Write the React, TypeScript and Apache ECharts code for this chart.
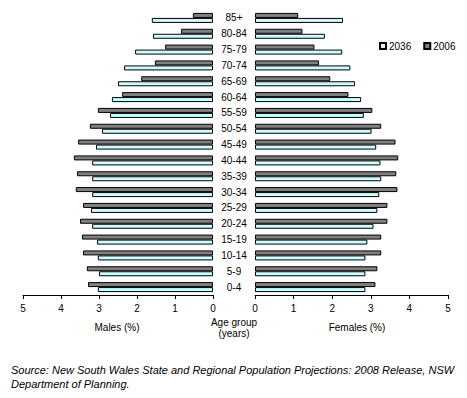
import React, { useEffect, useRef } from "react";
import * as echarts from "echarts";

const categories = ["0-4","5-9","10-14","15-19","20-24","25-29","30-34","35-39","40-44","45-49","50-54","55-59","60-64","65-69","70-74","75-79","80-84","85+"];
const males2006 = [3.29,3.32,3.42,3.45,3.5,3.42,3.61,3.58,3.66,3.55,3.24,3.03,2.39,1.89,1.53,1.26,0.84,0.53];
const males2036 = [3.03,3.0,3.03,3.05,3.18,3.21,3.18,3.18,3.18,3.08,2.92,2.71,2.66,2.5,2.34,2.05,1.58,1.61];
const females2006 = [3.12,3.17,3.27,3.27,3.43,3.43,3.69,3.66,3.71,3.64,3.27,3.04,2.42,1.95,1.66,1.54,1.23,1.12];
const females2036 = [2.86,2.86,2.86,2.91,3.07,3.17,3.22,3.27,3.25,3.14,3.02,2.82,2.75,2.59,2.47,2.26,1.81,2.28];
const xTicks = [0, 1, 2, 3, 4, 5];

const FONT = "'Liberation Sans', Arial, sans-serif";
const CYAN = "#ccffff";
const GRAY = "#808080";

export default function App() {
  const ref = useRef<HTMLDivElement>(null);
  useEffect(() => {
    document.body.style.margin = "0";
    const chart = echarts.init(ref.current!, null, { renderer: "svg" });
    const xAxisBase = (idx: number) => ({
      type: "value",
      gridIndex: idx,
      min: xTicks[0],
      max: xTicks[xTicks.length - 1],
      interval: 1,
      inverse: idx === 0,
      splitLine: { show: false },
      axisLine: { show: true, lineStyle: { color: "#000", width: 1 } },
      axisTick: { show: true, length: 4, lineStyle: { color: "#000" } },
      axisLabel: { color: "#000", fontSize: 10, fontFamily: FONT, margin: 8 },
    });
    const yAxisBase = (idx: number) => ({
      type: "category",
      gridIndex: idx,
      data: categories,
      axisLine: { show: false },
      axisTick: { show: false },
      axisLabel: idx === 1
        ? { show: true, color: "#000", fontSize: 10, fontFamily: FONT, align: "center", margin: 21 }
        : { show: false },
    });
    const barBase = {
      type: "bar",
      barWidth: 5,
      barGap: "0%",
      barCategoryGap: "40%",
    };
    const style = (c: string) => ({ color: c, borderColor: "#000", borderWidth: 1 });
    chart.setOption({
      animation: false,
      textStyle: { fontFamily: FONT },
      grid: [
        { left: 23, top: 10, width: 190, height: 285 },
        { left: 255, top: 10, width: 193, height: 285 },
      ],
      xAxis: [xAxisBase(0), xAxisBase(1)],
      yAxis: [yAxisBase(0), yAxisBase(1)],
      legend: {
        data: ["2036", "2006"],
        left: 374,
        top: 36,
        icon: "rect",
        itemWidth: 6,
        itemHeight: 6,
        itemGap: 12,
        textStyle: { fontSize: 10, color: "#000", fontFamily: FONT, padding: [0, 0, 0, -2] },
      },
      series: [
        { ...barBase, name: "2006", xAxisIndex: 0, yAxisIndex: 0, data: males2006, itemStyle: style(GRAY) },
        { ...barBase, name: "2036", xAxisIndex: 0, yAxisIndex: 0, data: males2036, itemStyle: style(CYAN) },
        { ...barBase, name: "2006", xAxisIndex: 1, yAxisIndex: 1, data: females2006, itemStyle: style(GRAY) },
        { ...barBase, name: "2036", xAxisIndex: 1, yAxisIndex: 1, data: females2036, itemStyle: style(CYAN) },
      ],
      graphic: [
        { type: "text", x: 117, y: 327, style: { text: "Males (%)", fontSize: 10, fontFamily: FONT, fill: "#000", textAlign: "center", textVerticalAlign: "middle" } },
        { type: "text", x: 357, y: 327, style: { text: "Females (%)", fontSize: 10, fontFamily: FONT, fill: "#000", textAlign: "center", textVerticalAlign: "middle" } },
        { type: "text", x: 234, y: 322, style: { text: "Age group", fontSize: 10, fontFamily: FONT, fill: "#000", textAlign: "center", textVerticalAlign: "middle" } },
        { type: "text", x: 234, y: 333, style: { text: "(years)", fontSize: 10, fontFamily: FONT, fill: "#000", textAlign: "center", textVerticalAlign: "middle" } },
        { type: "text", x: 11, y: 370, style: { text: "Source: New South Wales State and Regional Population Projections: 2008 Release, NSW", fontSize: 11, fontStyle: "italic", fontFamily: FONT, fill: "#000", textVerticalAlign: "middle" } },
        { type: "text", x: 11, y: 384, style: { text: "Department of Planning.", fontSize: 11, fontStyle: "italic", fontFamily: FONT, fill: "#000", textVerticalAlign: "middle" } },
      ],
    });
    return () => chart.dispose();
  }, []);
  return <div ref={ref} style={{ width: 467, height: 398 }} />;
}
